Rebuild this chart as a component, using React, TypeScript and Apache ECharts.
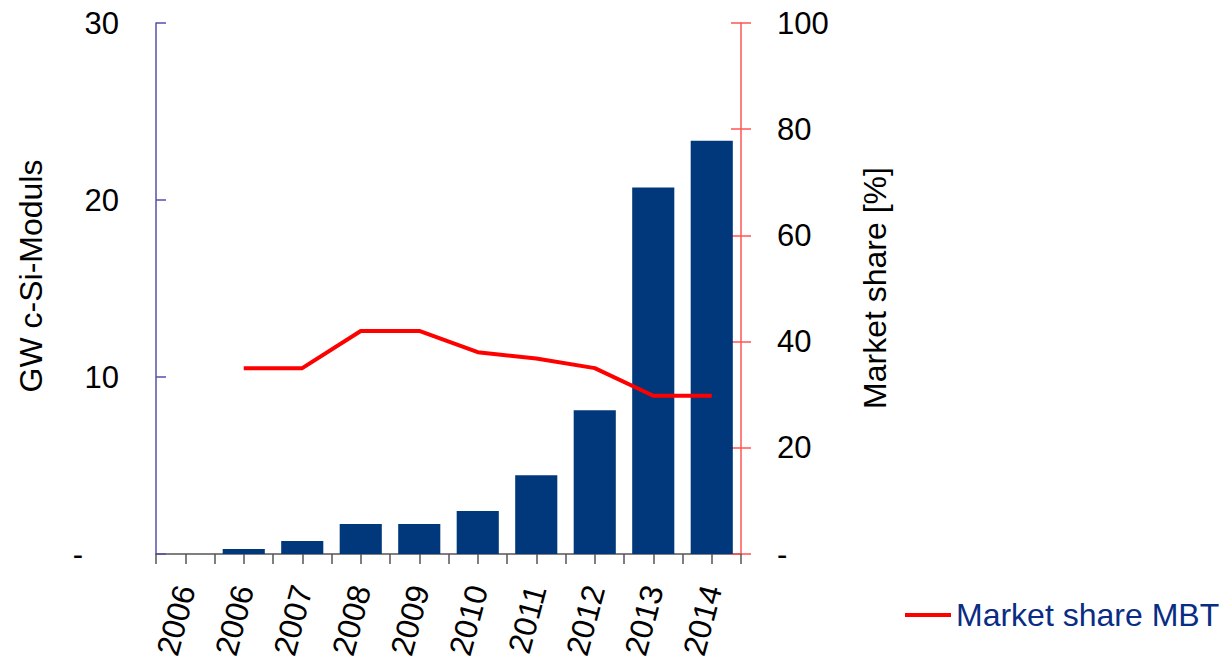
import React, { useEffect, useRef } from "react";
import * as echarts from "echarts";

const categories = ["2006", "2006", "2007", "2008", "2009", "2010", "2011", "2012", "2013", "2014"];
const gwModules = [0, 0.28, 0.73, 1.7, 1.7, 2.43, 4.45, 8.12, 20.7, 23.35];
const marketShareMBT: (number | null)[] = [null, 35, 35, 42, 42, 38, 36.8, 35, 29.8, 29.8];
const leftTicks = { min: 0, max: 30, interval: 10 };
const rightTicks = { min: 0, max: 100, interval: 20 };
const leftAxisName = "GW c-Si-Moduls";
const rightAxisName = "Market share [%]";

const FONT = "Liberation Sans, Arial, sans-serif";

export default function App() {
  const ref = useRef<HTMLDivElement>(null);
  useEffect(() => {
    document.body.style.margin = "0";
    const chart = echarts.init(ref.current!, null, { renderer: "svg" });
    const tickSlots = categories.flatMap((c, i) => [c + "a" + i, c + "b" + i]);
    chart.setOption({
      animation: false,
      textStyle: { fontFamily: FONT },
      grid: { left: 156, right: 480, top: 23, bottom: 110, containLabel: false },
      legend: {
        left: 900,
        top: 594,
        itemWidth: 46,
        itemHeight: 4,
        itemGap: 10,
        data: [{ name: "Market share MBT", icon: "rect" }],
        textStyle: { fontSize: 32, color: "#0a2d84", fontFamily: FONT },
      },
      graphic: [
        {
          type: "text",
          x: 31,
          y: 276,
          rotation: Math.PI / 2,
          style: {
            text: leftAxisName,
            fontSize: 32,
            fontFamily: FONT,
            fill: "#000",
            align: "center",
            verticalAlign: "middle",
          },
        },
        {
          type: "text",
          x: 875,
          y: 288,
          rotation: Math.PI / 2,
          style: {
            text: rightAxisName,
            fontSize: 32,
            fontFamily: FONT,
            fill: "#000",
            align: "center",
            verticalAlign: "middle",
          },
        },
      ],
      xAxis: [
        {
          type: "category",
          data: categories,
          axisLine: { show: true, lineStyle: { color: "#555555", width: 1.5 } },
          axisTick: { show: false },
          axisLabel: { rotate: 75, fontSize: 32, color: "#000", margin: 32, interval: 0, fontFamily: FONT },
          splitLine: { show: false },
        },
        {
          type: "category",
          data: tickSlots,
          position: "bottom",
          axisLine: { show: false },
          axisTick: { show: true, interval: 0, length: 10, lineStyle: { color: "#555555", width: 1.5 } },
          axisLabel: { show: false },
          splitLine: { show: false },
        },
      ],
      yAxis: [
        {
          type: "value",
          ...leftTicks,
          position: "left",
          axisLine: { show: true, lineStyle: { color: "#5252a8", width: 1.5 } },
          axisTick: { show: true, inside: true, length: 10, lineStyle: { color: "#5252a8", width: 1.5 } },
          axisLabel: {
            fontSize: 31,
            color: "#000",
            margin: 37,
            fontFamily: FONT,
            formatter: (v: number) => (v === 0 ? "{d|-}" : String(v)),
            rich: { d: { fontSize: 31, color: "#000", padding: [0, 36, 0, 0], fontFamily: FONT } },
          },
          splitLine: { show: false },
        },
        {
          type: "value",
          ...rightTicks,
          position: "right",
          axisLine: { show: true, lineStyle: { color: "#ff5555", width: 1.5 } },
          axisTick: { show: true, inside: false, length: 10, lineStyle: { color: "#ff5555", width: 1.5 } },
          axisLabel: {
            fontSize: 31,
            color: "#000",
            margin: 36,
            fontFamily: FONT,
            formatter: (v: number) => (v === 0 ? "-" : String(v)),
          },
          splitLine: { show: false },
        },
        {
          type: "value",
          ...rightTicks,
          position: "right",
          axisLine: { show: false },
          axisTick: { show: true, inside: true, length: 10, lineStyle: { color: "#ff5555", width: 1.5 } },
          axisLabel: { show: false },
          splitLine: { show: false },
        },
      ],
      series: [
        {
          name: "GW c-Si-Moduls",
          type: "bar",
          data: gwModules,
          xAxisIndex: 0,
          yAxisIndex: 0,
          barCategoryGap: "28%",
          itemStyle: { color: "#00387b" },
        },
        {
          name: "Market share MBT",
          type: "line",
          data: marketShareMBT,
          xAxisIndex: 0,
          yAxisIndex: 1,
          showSymbol: false,
          symbol: "none",
          lineStyle: { color: "#ff0000", width: 4 },
          itemStyle: { color: "#ff0000" },
        },
      ],
    });
    return () => chart.dispose();
  }, []);
  return <div ref={ref} style={{ width: 1221, height: 664 }} />;
}
